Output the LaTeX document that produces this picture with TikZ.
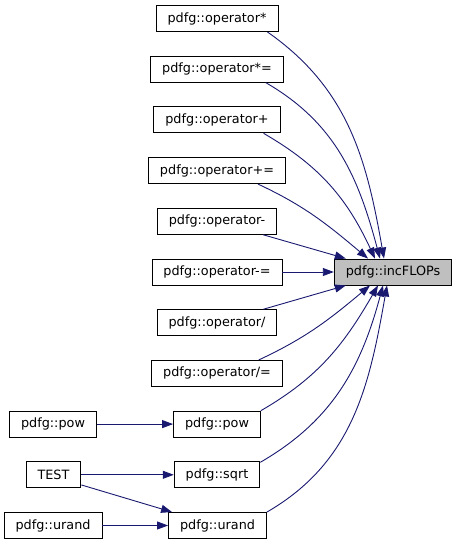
\documentclass[tikz,border=0pt]{standalone}
\usepackage{fontspec}
\setmainfont{DejaVu Sans}
\usepackage{xcolor}
\usetikzlibrary{positioning, arrows.meta, calc}

\definecolor{edgeblue}{HTML}{191970}
\definecolor{focusgray}{HTML}{BFBFBF}

\begin{document}
\begin{tikzpicture}[
    x=1pt, y=1pt,
    fnbox/.style={rectangle, draw=black, line width=0.9pt, fill=#1, minimum height=26pt, inner xsep=11.5pt, inner ysep=0pt, font=\fontsize{12.8}{15}\selectfont},
    fnbox/.default=white,
    arr/.style={-{Triangle[length=11pt, width=8pt]}, draw=edgeblue, fill=none, line width=0.9pt},
]
\useasboundingbox (0,0) rectangle (457,544);

\node[fnbox=focusgray] (inc) at (393, 272) {pdfg::incFLOPs};

\node[fnbox] (mul) at (217, 525.5) {pdfg::operator*};
\node[fnbox] (mulas) at (217, 474.8) {pdfg::operator*=};
\node[fnbox] (add) at (217, 424.1) {pdfg::operator+};
\node[fnbox] (addas) at (217, 373.4) {pdfg::operator+=};
\node[fnbox] (sub) at (217, 322.7) {pdfg::operator-};
\node[fnbox] (subas) at (217, 272) {pdfg::operator-=};
\node[fnbox] (div) at (217, 221.3) {pdfg::operator/};
\node[fnbox] (divas) at (217, 170.6) {pdfg::operator/=};
\node[fnbox] (pow) at (217, 119.9) {pdfg::pow};
\node[fnbox] (sqrt) at (217, 69.2) {pdfg::sqrt};
\node[fnbox] (urand) at (217.5, 18.5) {pdfg::urand};

\node[fnbox] (powl) at (53, 119.9) {pdfg::pow};
\node[fnbox] (test) at (53.5, 69.2) {TEST};
\node[fnbox] (urandl) at (53, 18.5) {pdfg::urand};

\draw[arr] ([xshift=-11pt]mul.south east) to[out=-35, in=100] ([xshift=-9pt]inc.north);
\draw[arr] ([xshift=-18pt]mulas.south east) to[out=-30, in=105] ([xshift=-13pt]inc.north);
\draw[arr] ([xshift=-17pt]add.south east) to[out=-30, in=115] ([xshift=-18pt]inc.north);
\draw[arr] ([xshift=-28pt]addas.south east) to[out=-25, in=140] ([xshift=-25pt]inc.north);
\draw[arr] ([xshift=-14pt]sub.south east) -- ([xshift=12pt]inc.north west);
\draw[arr] (subas.east) -- (inc.west);
\draw[arr] ([xshift=-14pt]div.north east) -- ([xshift=12pt]inc.south west);
\draw[arr] ([xshift=-24pt]divas.north east) to[out=25, in=-140] ([xshift=-23pt]inc.south);
\draw[arr] (pow.north east) to[out=30, in=-120] ([xshift=-15pt]inc.south);
\draw[arr] ([yshift=-1pt]sqrt.north east) to[out=30, in=-105] ([xshift=-10pt]inc.south);
\draw[arr] (urand.north east) to[out=30, in=-100] ([xshift=-6pt]inc.south);

\draw[arr] (powl.east) -- (pow.west);
\draw[arr] (test.east) -- (sqrt.west);
\draw[arr] (test.-20) -- ([xshift=4pt]urand.north west);
\draw[arr] (urandl.east) -- (urand.west);

\end{tikzpicture}
\end{document}
